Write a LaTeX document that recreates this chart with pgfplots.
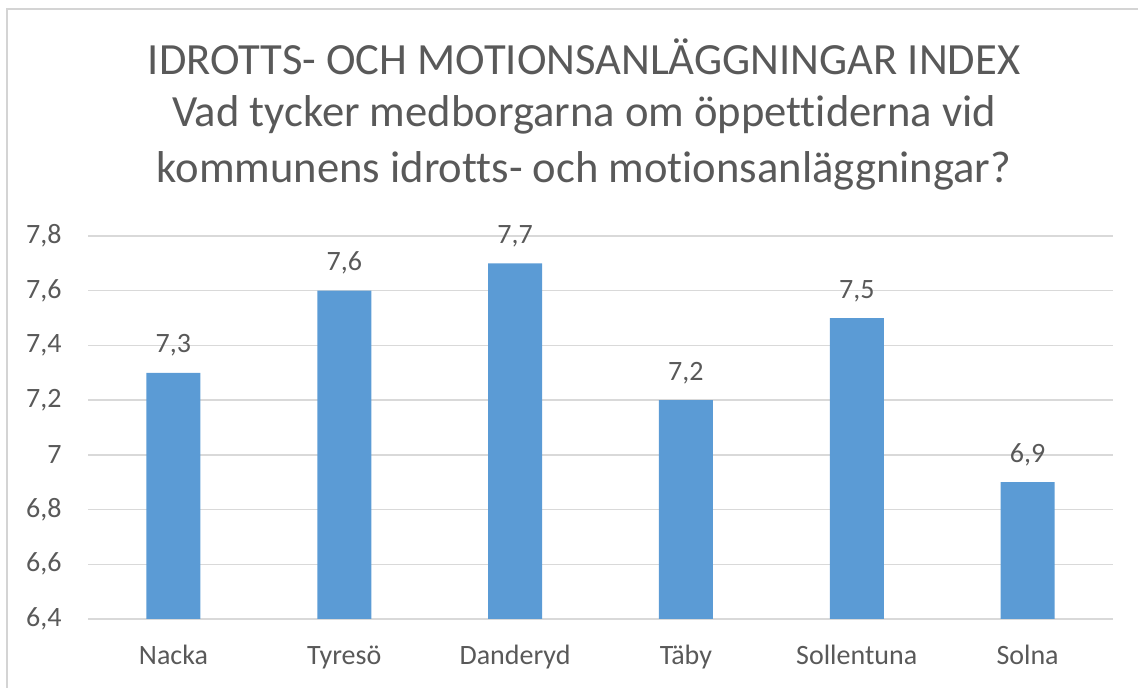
\documentclass[border=0pt]{standalone}
\usepackage{fontspec}
\setmainfont{Carlito}[Ligatures={NoCommon}]
\usepackage{pgfplots}
\pgfplotsset{compat=1.18}
\definecolor{barblue}{HTML}{5B9BD5}
\definecolor{txt}{HTML}{595959}
\definecolor{gridc}{HTML}{D9D9D9}
\definecolor{framec}{HTML}{D4D4D4}
\begin{document}
\begin{tikzpicture}[x=1pt,y=1pt]
\useasboundingbox (0,0) rectangle (569,344);
\draw[framec, line width=0.75pt] (3.5,-10) -- (3.5,339.5) -- (580,339.5);
\node[anchor=base, text=txt, font=\fontsize{22.3}{27}\selectfont, inner sep=0pt] at (292,306.5) {IDROTTS- OCH MOTIONSANLÄGGNINGAR INDEX};
\node[anchor=base, text=txt, font=\fontsize{22.3}{27}\selectfont, inner sep=0pt] at (292,280.5) {Vad tycker medborgarna om öppettiderna vid};
\node[anchor=base, text=txt, font=\fontsize{22.3}{27}\selectfont, inner sep=0pt] at (292,252.5) {kommunens idrotts- och motionsanläggningar?};
\begin{axis}[
  at={(44pt,34.5pt)}, anchor=south west,
  scale only axis, width=512.5pt, height=191.5pt,
  xmin=-0.5, xmax=5.5, ymin=6.4, ymax=7.8,
  ybar, bar width=27pt,
  axis line style={draw=none},
  major tick length=0pt,
  ymajorgrids, grid style={gridc, line width=0.75pt},
  ytick={6.4,6.6,6.8,7,7.2,7.4,7.6,7.8},
  xtick={0,1,2,3,4,5},
  xticklabels={Nacka,Tyresö,Danderyd,Täby,Sollentuna,Solna},
  tick label style={font=\fontsize{14}{16}\selectfont, text=txt},
  yticklabel style={anchor=east, inner sep=0pt, xshift=-13pt},
  xticklabel style={anchor=base, inner sep=0pt, yshift=-23pt},
  /pgf/number format/use comma,
  /pgf/number format/fixed,
  /pgf/number format/precision=1,
  /pgf/number format/assume math mode=true,
  nodes near coords,
  nodes near coords style={font=\fontsize{14}{16}\selectfont, text=txt, anchor=base, inner sep=0pt, yshift=10pt},
]
\addplot[fill=barblue, draw=none] coordinates {(0,7.3) (1,7.6) (2,7.7) (3,7.2) (4,7.5) (5,6.9)};
\end{axis}
\end{tikzpicture}
\end{document}
